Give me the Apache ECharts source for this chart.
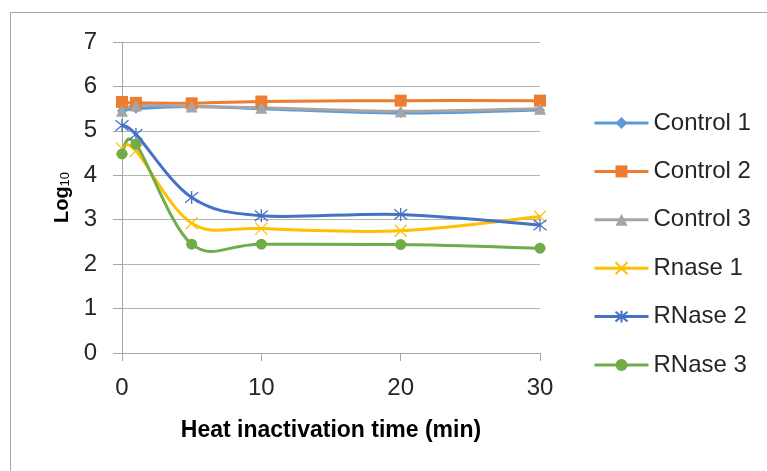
<!DOCTYPE html>
<html>
<head>
<meta charset="utf-8">
<script src="https://cdn.jsdelivr.net/npm/echarts@6/dist/echarts.min.js"></script>
<style>
  html, body { margin: 0; padding: 0; background: #fff; }
  #main { width: 767px; height: 471px; }
</style>
</head>
<body>
<div id="main"></div>
<script>
// minutes of heat inactivation
var times = [0, 1, 5, 10, 20, 30];
var control1 = [5.45, 5.5, 5.55, 5.5, 5.4, 5.47];
var control2 = [5.65, 5.63, 5.62, 5.66, 5.68, 5.68];
var control3 = [5.45, 5.57, 5.55, 5.52, 5.44, 5.5];
var rnase1 = [4.6, 4.55, 2.92, 2.8, 2.75, 3.07];
var rnase2 = [5.12, 4.92, 3.5, 3.09, 3.12, 2.88];
var rnase3 = [4.48, 4.7, 2.45, 2.45, 2.44, 2.36];

var font = 'Liberation Sans, Arial, sans-serif';
var crossPath = 'path://M0,0L10,10M10,0L0,10';
var starPath = 'path://M0,1L10,9M10,1L0,9M5,0L5,10';

function pairs(vals) {
	return times.map(function (t, i) { return [t, vals[i]]; });
}

// markers + legend entry, the line itself is hidden
function markSeries(name, vals, color, symbol, size, stroke) {
	return {
		name: name,
		type: 'line',
		z: 3,
		data: pairs(vals),
		symbol: symbol,
		symbolSize: size,
		showAllSymbol: true,
		lineStyle: { width: 3, color: color, opacity: 0 },
		itemStyle: { color: color, borderColor: color, borderWidth: stroke },
		emphasis: { disabled: true }
	};
}

// excel-like smoothed curve (catmull-rom bezier) through the data points
function curveSeries(name, vals, color) {
	return {
		name: name + ' curve',
		type: 'custom',
		z: 2,
		silent: true,
		data: pairs(vals),
		encode: { x: 0, y: 1 },
		renderItem: function (params, api) {
			if (params.dataIndex !== 0) return null;
			var p = vals.map(function (v, i) { return api.coord([times[i], v]); });
			var n = p.length;
			var d = 'M' + p[0][0] + ',' + p[0][1];
			for (var i = 0; i < n - 1; i++) {
				var p0 = p[Math.max(i - 1, 0)], p1 = p[i], p2 = p[i + 1], p3 = p[Math.min(i + 2, n - 1)];
				var c1x = p1[0] + (p2[0] - p0[0]) / 6, c1y = p1[1] + (p2[1] - p0[1]) / 6;
				var c2x = p2[0] - (p3[0] - p1[0]) / 6, c2y = p2[1] - (p3[1] - p1[1]) / 6;
				d += 'C' + c1x + ',' + c1y + ',' + c2x + ',' + c2y + ',' + p2[0] + ',' + p2[1];
			}
			return {
				type: 'path',
				shape: { pathData: d },
				style: { fill: 'none', stroke: color, lineWidth: 3 }
			};
		}
	};
}

var lines = [
	['Control 1', control1, '#5b9bd5', 'diamond', 10, 0],
	['Control 2', control2, '#ed7d31', 'rect', 12, 0],
	['Control 3', control3, '#a5a5a5', 'triangle', 12, 0],
	['Rnase 1', rnase1, '#ffc000', crossPath, 12, 1.3],
	['RNase 2', rnase2, '#4472c4', starPath, 13, 1.3],
	['RNase 3', rnase3, '#70ad47', 'circle', 11, 0]
];

var series = [];
lines.forEach(function (l) {
	series.push(curveSeries(l[0], l[1], l[2]));
	series.push(markSeries(l[0], l[1], l[2], l[3], l[4], l[5]));
});

var myChart = echarts.init(document.getElementById('main'));
var option = {
	animation: false,
	backgroundColor: '#fff',
	graphic: [{
		type: 'rect',
		shape: { x: 10.5, y: 12.5, width: 800, height: 500 },
		style: { fill: 'none', stroke: '#a6a6a6', lineWidth: 1 },
		silent: true
	}],
	grid: { left: 122, right: 227, top: 42, bottom: 118 },
	legend: {
		orient: 'vertical',
		left: 593,
		top: 111,
		padding: 0,
		itemWidth: 54,
		itemHeight: 15,
		itemGap: 24.4,
		lineStyle: { opacity: 1, width: 3 },
		textStyle: { fontFamily: font, fontSize: 24, color: '#262626' },
		data: lines.map(function (l) { return l[0]; })
	},
	xAxis: {
		type: 'value',
		min: 0,
		max: 30,
		interval: 10,
		name: 'Heat inactivation time (min)',
		nameLocation: 'middle',
		nameGap: 66,
		nameTextStyle: { fontFamily: font, fontSize: 23, fontWeight: 'bold', color: '#000' },
		axisLine: { lineStyle: { color: '#a6a6a6', width: 1 } },
		axisTick: { length: 8, lineStyle: { color: '#a6a6a6' } },
		axisLabel: { margin: 23, fontFamily: font, fontSize: 24, color: '#262626' },
		splitLine: { show: false }
	},
	yAxis: {
		type: 'value',
		min: 0,
		max: 7,
		interval: 1,
		name: '{a|Log}{b|10}',
		nameLocation: 'middle',
		nameGap: 50,
		nameRotate: 90,
		nameTextStyle: {
			rich: {
				a: { fontFamily: font, fontSize: 20, fontWeight: 'bold', color: '#000' },
				b: { fontFamily: font, fontSize: 13, color: '#000', verticalAlign: 'bottom' }
			}
		},
		axisLine: { show: true, lineStyle: { color: '#a6a6a6', width: 1 } },
		axisTick: { show: true, length: 9, lineStyle: { color: '#a6a6a6' } },
		axisLabel: { margin: 25, fontFamily: font, fontSize: 24, color: '#262626' },
		splitLine: { lineStyle: { color: '#b3b3b3', width: 1 } }
	},
	series: series
};
myChart.setOption(option);
</script>
</body>
</html>
